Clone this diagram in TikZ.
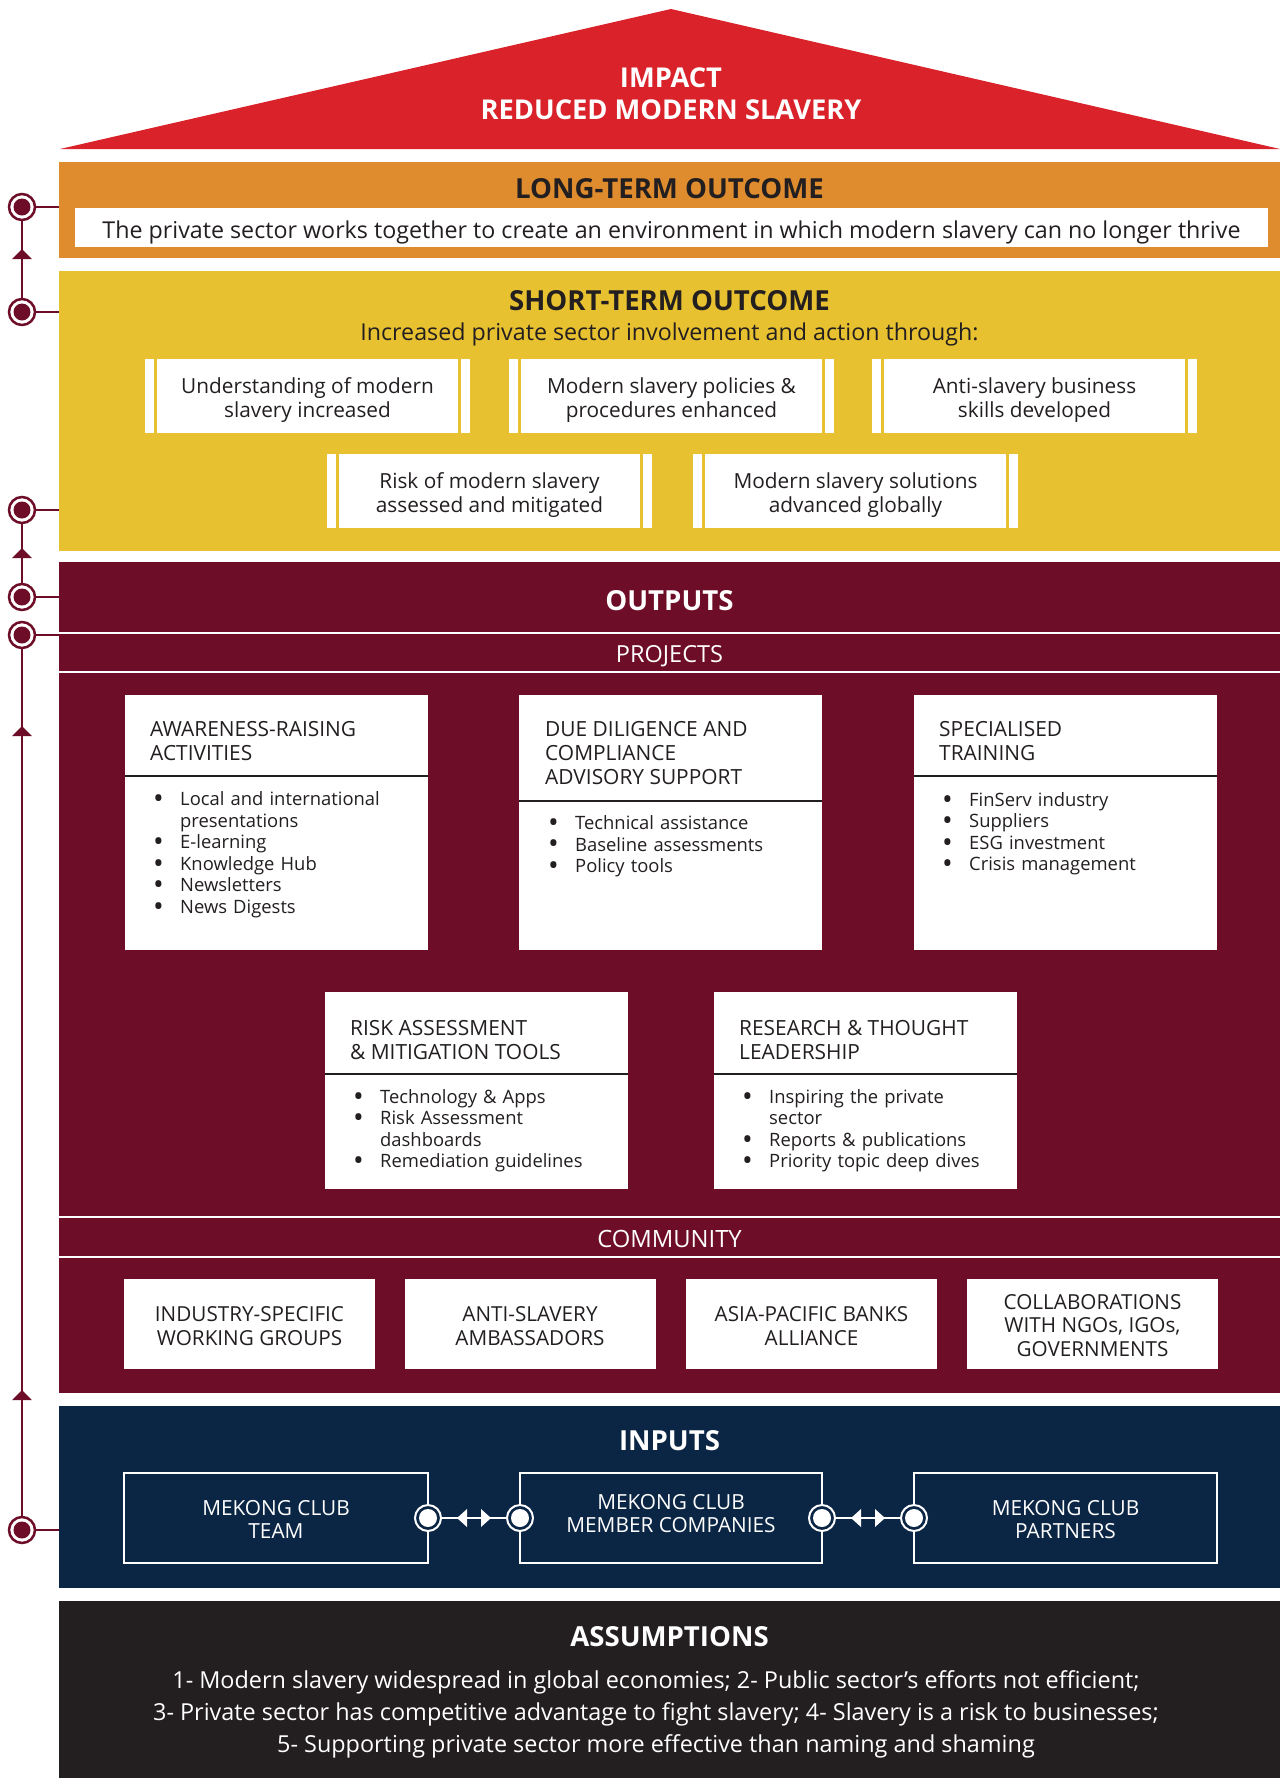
\documentclass[tikz,border=0pt]{standalone}
\usepackage{fontspec}
\setmainfont{Open Sans}
\usetikzlibrary{arrows.meta,calc,decorations.markings}
\definecolor{impred}{HTML}{D9222A}
\definecolor{ltorange}{HTML}{DF8C2E}
\definecolor{styellow}{HTML}{E8C130}
\definecolor{maroonc}{HTML}{6E0D27}
\definecolor{navyc}{HTML}{0B2645}
\definecolor{asdark}{HTML}{231F20}
\definecolor{ink}{HTML}{231F20}
\newcommand{\fsz}[2]{\fontsize{#1}{#2}\selectfont}
\newcommand{\mybul}{\smash{\raisebox{-0.16em}{\scalebox{1.55}{\textbullet}}}}
\newcommand{\bitem}[1]{\par\noindent\hangindent=27pt\hangafter=1\makebox[27pt][l]{\mybul}#1}
\newcommand{\stbox}[4]{%
  \node[stmain] (#1) at (#2,#3) {};
  \node[sttext] (#1T) at ($(#1.center)+(0,4.5)$) {#4};
  \fill[white] ($(#1.north west)+(-12,0)$) rectangle ($(#1.south west)+(-3,0)$);
  \fill[white] ($(#1.north east)+(3,0)$) rectangle ($(#1.south east)+(12,0)$);
}
\begin{document}
\begin{tikzpicture}[x=1pt,y=-1pt,
  band/.style={rectangle, inner sep=0, outer sep=0, draw=none, anchor=north west},
  wbox/.style={rectangle, fill=white, inner sep=0, outer sep=0, draw=none},
  head/.style={font=\bfseries\fsz{27.6}{32}, inner sep=0},
  stmain/.style={wbox, minimum width=301, minimum height=74},
  sttext/.style={align=center, text=ink, font=\fsz{20.8}{24}, inner sep=0},
  pbox/.style={wbox, minimum width=303},
  ptitle/.style={anchor=west, align=left, text=ink, font=\fsz{20.9}{24}, inner sep=0},
  plist/.style={anchor=west, text width=265, align=left, text=ink, font=\fsz{18.4}{21.5}, inner sep=0},
  psep/.style={draw=ink, line width=1.5},
  cbox/.style={wbox, minimum width=251, minimum height=90},
  ctext/.style={align=center, text=ink, font=\fsz{20.7}{23.5}, inner sep=0},
  ibox/.style={rectangle, draw=white, line width=2, fill=navyc, minimum height=90, inner sep=0, outer sep=0},
  itext/.style={align=center, text=white, font=\fsz{20.8}{23}, inner sep=0},
  tcirc/.style={circle, draw=maroonc, line width=2.5, fill=white, minimum size=26, inner sep=0, outer sep=0,
    path picture={\fill[maroonc] (path picture bounding box.center) circle (8.5pt);}},
  icirc/.style={circle, draw=white, line width=2, fill=navyc, minimum size=26, inner sep=0, outer sep=0,
    path picture={\fill[white] (path picture bounding box.center) circle (9pt);}},
  tl/.style={draw=maroonc, line width=2.2},
  wline/.style={draw=white, line width=2},
]
\useasboundingbox (0,0) rectangle (1280,1778);

% Impact
\fill[impred] (60,149) -- (671,9) -- (1280,149) -- cycle;
\node[head, font=\bfseries\fsz{27.3}{32}, text=white, align=center] (impact) at (671,94) {IMPACT\\REDUCED MODERN SLAVERY};

% Long-term outcome
\node[band, fill=ltorange, minimum width=1221, minimum height=96] (ltb) at (59,162) {};
\node[head, text=ink] (lth) at (669.5,189) {LONG-TERM OUTCOME};
\node[wbox, minimum width=1193, minimum height=39] (ltw) at (671.5,227.5) {};
\node[text=ink, font=\fsz{23.25}{27}, inner sep=0] (ltt) at ($(ltw.center)+(0,4.5)$) {The private sector works together to create an environment in which modern slavery can no longer thrive};

% Short-term outcome
\node[band, fill=styellow, minimum width=1221, minimum height=280] (stb) at (59,271) {};
\node[head, text=ink] (sth) at (669.5,301) {SHORT-TERM OUTCOME};
\node[text=ink, font=\fsz{23.25}{27}, inner sep=0] (sts) at (669.5,334.5) {Increased private sector involvement and action through:};
\stbox{s1}{307.5}{396}{Understanding of modern\\slavery increased}
\stbox{s2}{671.5}{396}{Modern slavery policies \&\\procedures enhanced}
\stbox{s3}{1034.5}{396}{Anti-slavery business\\skills developed}
\stbox{s4}{489.5}{491}{Risk of modern slavery\\assessed and mitigated}
\stbox{s5}{855.5}{491}{Modern slavery solutions\\advanced globally}

% Outputs
\node[band, fill=maroonc, minimum width=1221, minimum height=831] (outb) at (59,562) {};
\node[head, text=white] (outh) at (669.5,601) {OUTPUTS};
\draw[wline] (59,633) -- (1280,633);
\draw[wline] (59,672) -- (1280,672);
\node[text=white, font=\fsz{23.5}{27}, inner sep=0] (proj) at (669.5,656.5) {PROJECTS};

\node[pbox, minimum height=255] (pa) at (276.5,822.5) {};
\node[ptitle] (paT) at ($(pa.north west)+(25,46)$) {AWARENESS-RAISING\\ACTIVITIES};
\draw[psep] ($(pa.north west)+(0,81)$) -- ($(pa.north east)+(0,81)$);
\node[plist] (paL) at ($(pa.north west)+(28,156)$) {\bitem{Local and international\newline presentations}\bitem{E-learning}\bitem{Knowledge Hub}\bitem{Newsletters}\bitem{News Digests}};

\node[pbox, minimum height=255] (pb) at (670.5,822.5) {};
\node[ptitle] (pbT) at ($(pb.north west)+(26,58)$) {DUE DILIGENCE AND\\COMPLIANCE\\ADVISORY SUPPORT};
\draw[psep] ($(pb.north west)+(0,106)$) -- ($(pb.north east)+(0,106)$);
\node[plist] (pbL) at ($(pb.north west)+(29,147.5)$) {\bitem{Technical assistance}\bitem{Baseline assessments}\bitem{Policy tools}};

\node[pbox, minimum height=255] (pc) at (1065.5,822.5) {};
\node[ptitle] (pcT) at ($(pc.north west)+(25,46)$) {SPECIALISED\\TRAINING};
\draw[psep] ($(pc.north west)+(0,81)$) -- ($(pc.north east)+(0,81)$);
\node[plist] (pcL) at ($(pc.north west)+(28,135)$) {\bitem{FinServ industry}\bitem{Suppliers}\bitem{ESG investment}\bitem{Crisis management}};

\node[pbox, minimum height=197] (pd) at (476.5,1090.5) {};
\node[ptitle] (pdT) at ($(pd.north west)+(25,48)$) {RISK ASSESSMENT\\\&~MITIGATION TOOLS};
\draw[psep] ($(pd.north west)+(0,82)$) -- ($(pd.north east)+(0,82)$);
\node[plist] (pdL) at ($(pd.north west)+(28,135)$) {\bitem{Technology \& Apps}\bitem{Risk Assessment\newline dashboards}\bitem{Remediation guidelines}};

\node[pbox, minimum height=197] (pe) at (865.5,1090.5) {};
\node[ptitle] (peT) at ($(pe.north west)+(25,48)$) {RESEARCH \& THOUGHT\\LEADERSHIP};
\draw[psep] ($(pe.north west)+(0,82)$) -- ($(pe.north east)+(0,82)$);
\node[plist] (peL) at ($(pe.north west)+(28,135)$) {\bitem{Inspiring the private\newline sector}\bitem{Reports \& publications}\bitem{Priority topic deep dives}};

% Community
\draw[wline] (59,1217) -- (1280,1217);
\draw[wline] (59,1257) -- (1280,1257);
\node[text=white, font=\fsz{23.8}{27}, inner sep=0] (comm) at (669.5,1239) {COMMUNITY};
\node[cbox] (c1) at (249.5,1324) {};
\node[cbox] (c2) at (530,1324) {};
\node[cbox] (c3) at (811.5,1324) {};
\node[cbox] (c4) at (1092.5,1324) {};
\node[ctext] (c1T) at ($(c1.center)+(0,2.3)$) {INDUSTRY-SPECIFIC\\WORKING GROUPS};
\node[ctext] (c2T) at ($(c2.center)+(0,2.3)$) {ANTI-SLAVERY\\AMBASSADORS};
\node[ctext] (c3T) at ($(c3.center)+(0,2.3)$) {ASIA-PACIFIC BANKS\\ALLIANCE};
\node[ctext] (c4T) at ($(c4.center)+(0,1.5)$) {COLLABORATIONS\\WITH NGOs, IGOs,\\GOVERNMENTS};

% Inputs
\node[band, fill=navyc, minimum width=1221, minimum height=182] (inb) at (59,1406) {};
\node[head, text=white] (inh) at (669.5,1441) {INPUTS};
\node[ibox, minimum width=304] (ia) at (276,1518) {};
\node[ibox, minimum width=302] (ib) at (671,1518) {};
\node[ibox, minimum width=303] (ic) at (1065.5,1518) {};
\node[itext] (iaT) at ($(ia.center)+(0,1.5)$) {MEKONG CLUB\\TEAM};
\node[itext] (ibT) at ($(ib.center)+(0,-4.5)$) {MEKONG CLUB\\MEMBER COMPANIES};
\node[itext] (icT) at ($(ic.center)+(0,1.5)$) {MEKONG CLUB\\PARTNERS};
\node[icirc] (ca1) at (ia.east) {};
\node[icirc] (ca2) at (ib.west) {};
\node[icirc] (cb1) at (ib.east) {};
\node[icirc] (cb2) at (ic.west) {};
\draw[wline] (ca1) -- (ca2);
\draw[wline] (cb1) -- (cb2);
\coordinate (ma) at ($(ca1)!0.5!(ca2)$);
\coordinate (mb) at ($(cb1)!0.5!(cb2)$);
\foreach \m in {ma,mb}{
  \fill[white] ($(\m)+(-17,0)$) -- ($(\m)+(-7,-9)$) -- ($(\m)+(-7,9)$) -- cycle;
  \fill[white] ($(\m)+(17,0)$) -- ($(\m)+(7,-9)$) -- ($(\m)+(7,9)$) -- cycle;
}

% Assumptions
\node[band, fill=asdark, minimum width=1221, minimum height=177] (asb) at (59,1601) {};
\node[head, text=white] (ash) at (669.5,1637) {ASSUMPTIONS};
\node[text=white, font=\fsz{23.4}{32.3}, align=center, inner sep=0] (ast) at (656,1714.5) {1- Modern slavery widespread in global economies; 2- Public sector’s efforts not efficient;\\3- Private sector has competitive advantage to fight slavery; 4- Slavery is a risk to businesses;\\5- Supporting private sector more effective than naming and shaming};

% Timeline
\foreach \n/\yy in {t1/207,t2/312,t3/510,t4/597,t5/635,t6/1530}
  \node[tcirc] (\n) at (22,\yy) {};
\draw[tl] (t1) -- (t1 -| ltb.west);
\draw[tl] (t2) -- (t2 -| stb.west);
\draw[tl] (t3) -- (t3 -| stb.west);
\draw[tl] (t4) -- (t4 -| outb.west);
\draw[tl] (t5) -- (t5 -| outb.west);
\draw[tl] (t6) -- (t6 -| inb.west);
\draw[tl, postaction={decorate, decoration={markings,
  mark=at position 50pt with {\arrow{Triangle[width=19pt,length=10pt]}}}}] (t2) -- (t1);
\draw[tl, postaction={decorate, decoration={markings,
  mark=at position 36pt with {\arrow{Triangle[width=19pt,length=10pt]}}}}] (t4) -- (t3);
\draw[tl, postaction={decorate, decoration={markings,
  mark=at position 127pt with {\arrow{Triangle[width=19pt,length=10pt]}},
  mark=at position 791pt with {\arrow{Triangle[width=19pt,length=10pt]}}}}] (t6) -- (t5);
\end{tikzpicture}
\end{document}
